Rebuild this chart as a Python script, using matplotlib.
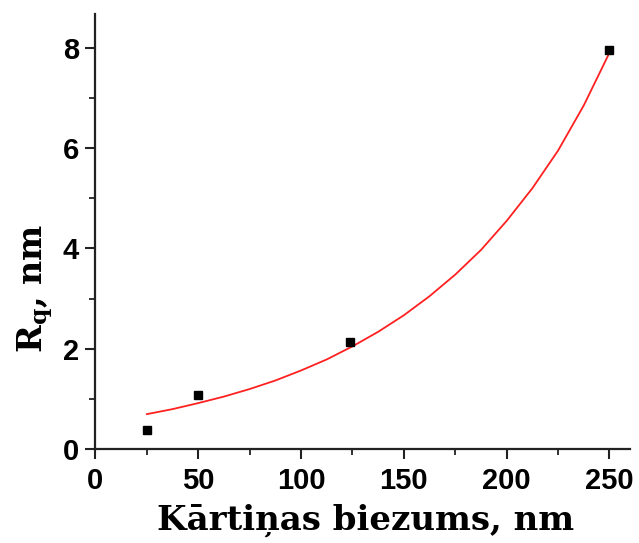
import numpy as np
import matplotlib
matplotlib.use("Agg")
import matplotlib.pyplot as plt
from matplotlib.ticker import MultipleLocator

# measured points
thickness = [25, 50, 124, 250]
rq = [0.38, 1.08, 2.13, 7.95]

# exponential fit curve
fit_x = [25, 37.5, 50, 62.5, 75, 87.5, 100, 112.5, 125, 137.5, 150,
         162.5, 175, 187.5, 200, 212.5, 225, 237.5, 250]
fit_y = [0.70, 0.80, 0.92, 1.05, 1.20, 1.37, 1.57, 1.79, 2.05, 2.34, 2.67,
         3.05, 3.48, 3.97, 4.55, 5.20, 5.95, 6.85, 7.90]

x_ticks = [0, 50, 100, 150, 200, 250]
y_ticks = [0, 2, 4, 6, 8]

plt.rcParams['mathtext.default'] = 'regular'

fig = plt.figure(figsize=(6.39, 5.43), dpi=100)
ax = fig.add_axes([0.1494, 0.1726, 0.8366, 0.8016])

ax.plot(fit_x, fit_y, color='#ff2020', lw=1.3, zorder=2)
ax.plot(thickness, rq, 's', color='black', ms=6, zorder=3)

ax.set_xlim(0, 260)
ax.set_ylim(0, 8.67)
ax.set_xticks(x_ticks)
ax.set_yticks(y_ticks)
ax.xaxis.set_minor_locator(MultipleLocator(25))
ax.yaxis.set_minor_locator(MultipleLocator(1))

for s in ['top', 'right']:
    ax.spines[s].set_visible(False)
for s in ['left', 'bottom']:
    ax.spines[s].set_linewidth(1.6)
    ax.spines[s].set_color('#222222')

ax.tick_params(which='major', direction='out', length=7, width=1.5,
               colors='#222222', pad=5)
ax.tick_params(which='minor', direction='out', length=4, width=1.3,
               colors='#222222')
ax.tick_params(axis='x', which='major', pad=6)
for lab in ax.get_xticklabels() + ax.get_yticklabels():
    lab.set_fontfamily('Liberation Sans')
    lab.set_fontweight('bold')
    lab.set_fontsize(21)
    lab.set_color('black')

ax.set_xlabel('Kārtiņas biezums, nm', fontfamily='DejaVu Serif',
              fontweight='bold', fontsize=24.5)
ax.xaxis.set_label_coords(0.506, -0.125)
ax.xaxis.label.set_va('top')

ax.set_ylabel(r'R$_{q}$, nm', fontfamily='DejaVu Serif',
              fontweight='bold', fontsize=24)
ax.yaxis.set_label_coords(-0.075, 0.37)

fig.savefig('out.png', dpi=100)
